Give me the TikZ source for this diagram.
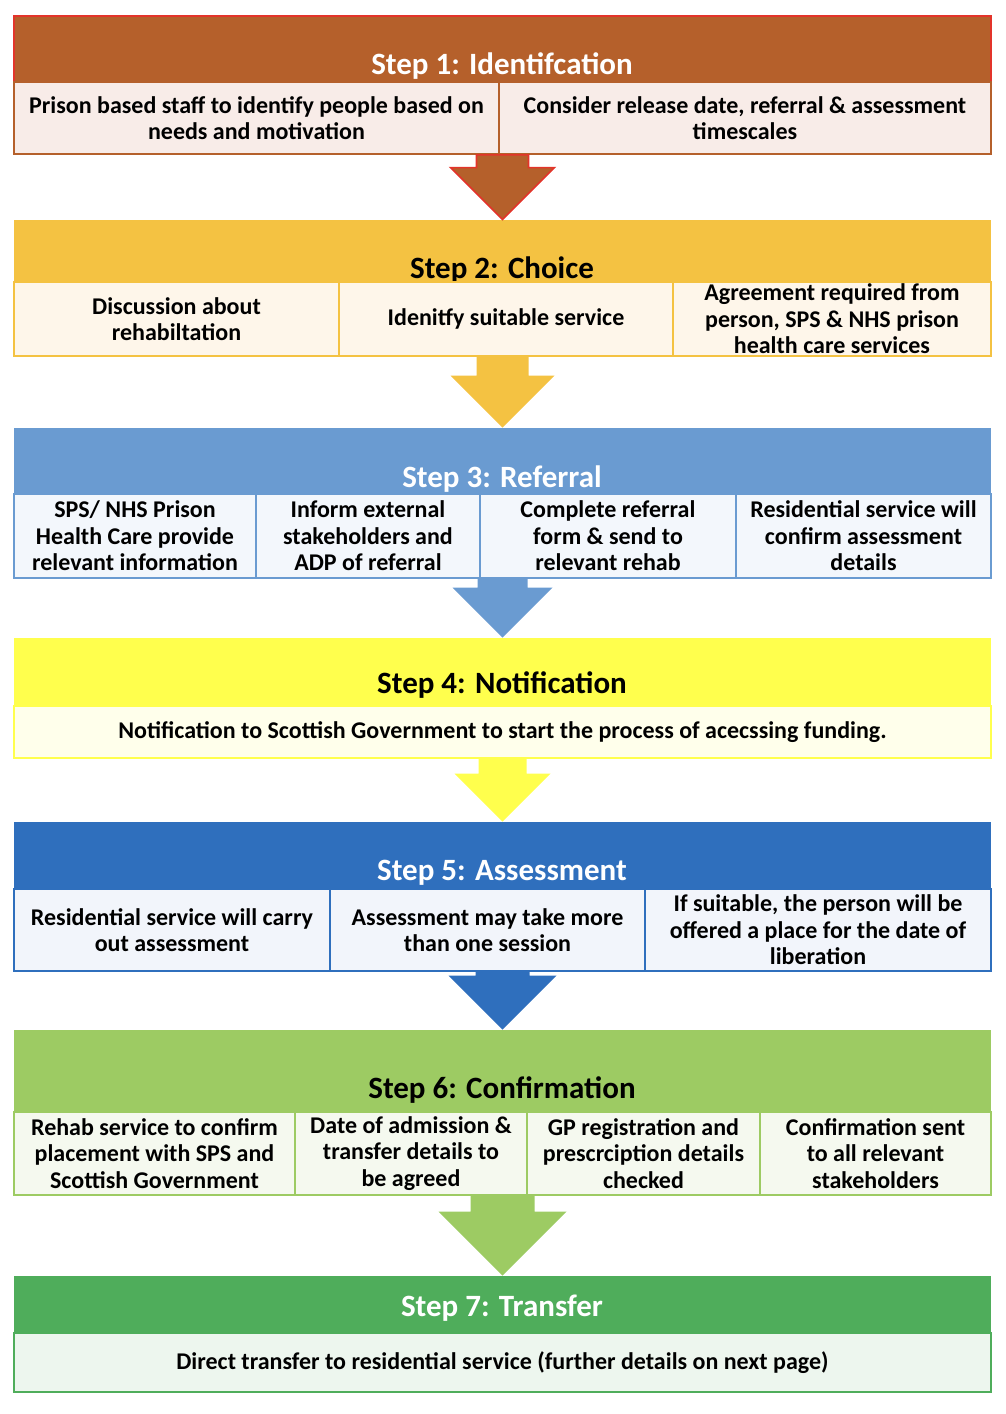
\documentclass[tikz,border=0pt]{standalone}
\usepackage{fontspec}
\setmainfont{Carlito}
\usepackage{xcolor}
\definecolor{color1}{RGB}{181, 96, 43}
\definecolor{color2}{RGB}{244, 194, 66}
\definecolor{color3}{RGB}{106, 155, 209}
\definecolor{color4}{RGB}{255, 255, 77}
\definecolor{color5}{RGB}{47, 111, 189}
\definecolor{color6}{RGB}{157, 203, 99}
\definecolor{color7}{RGB}{79, 173, 91}
\definecolor{light1}{RGB}{248, 236, 232}
\definecolor{light2}{RGB}{254, 246, 234}
\definecolor{light3}{RGB}{243, 247, 252}
\definecolor{light4}{RGB}{255, 255, 235}
\definecolor{light5}{RGB}{242, 245, 251}
\definecolor{light6}{RGB}{245, 249, 239}
\definecolor{light7}{RGB}{237, 246, 238}
\definecolor{red1}{RGB}{227, 52, 42}
\usepackage{tikz}
\usetikzlibrary{calc}

% box given by its corners: style, name, left, top, right, bottom, text
\newcommand{\cell}[7]{\node[#1, minimum width={(#5-#3)*0.5pt}, minimum height={(#6-#4)*0.5pt}] (#2) at ({(#3+#5)/2},{(#4+#6)/2}) {#7};}
% block arrow: from, to, half shaft width, style
\newcommand{\steparrow}[4]{\path[#4] let \p1=#1, \p2=#2 in
  (\x1-#3*0.5pt,\y1) -- (\x1+#3*0.5pt,\y1) -- (\x1+#3*0.5pt,\y2+#3pt) -- (\x1+#3pt,\y2+#3pt)
  -- (\x1,\y2) -- (\x1-#3pt,\y2+#3pt) -- (\x1-#3*0.5pt,\y2+#3pt) -- cycle;}

\begin{document}
\begin{tikzpicture}[x=0.5pt, y=-0.5pt,
	band/.style={fill=#1, inner sep=0pt},
	cell/.style 2 args={draw=#1, fill=#2, line width=0.8pt, inner sep=1pt, align=center, font=\bfseries\fontsize{12}{13.3}\selectfont},
	title/.style={text=#1, inner sep=0pt, font=\bfseries\fontsize{15.5}{17}\selectfont}]
		\useasboundingbox (0,0) rectangle (1006,1414);
		% Step 1
		\cell{band=color1, draw=red1, line width=0.8pt}{s1}{14}{16}{991}{82}{}
		\node[title=white] (t1) at (502,66) {Step 1: Identifcation};
		\cell{cell={color1}{light1}}{s1a}{14}{82}{499}{154}{Prison based staff to identify people based on\\needs and motivation}
		\cell{cell={color1}{light1}}{s1b}{499}{82}{991}{154}{Consider release date, referral \& assessment\\timescales}
		% Step 2
		\cell{band=color2}{s2}{14}{220}{991}{282}{}
		\node[title=black] (t2) at (502,270) {Step 2: Choice};
		\cell{cell={color2}{light2}}{s2a}{14}{282}{339}{356}{Discussion about\\rehabiltation}
		\cell{cell={color2}{light2}}{s2b}{339}{282}{673}{356}{Idenitfy suitable service}
		\cell{cell={color2}{light2}}{s2c}{673}{282}{991}{356}{Agreement required from\\person, SPS \& NHS prison\\health care services}
		% Step 3
		\cell{band=color3}{s3}{14}{428}{991}{494}{}
		\node[title=white] (t3) at (502,479) {Step 3: Referral};
		\cell{cell={color3}{light3}}{s3a}{14}{494}{256}{578}{SPS/ NHS Prison\\Health Care provide\\relevant information}
		\cell{cell={color3}{light3}}{s3b}{256}{494}{480}{578}{Inform external\\stakeholders and\\ADP of referral}
		\cell{cell={color3}{light3}}{s3c}{480}{494}{736}{578}{Complete referral\\form \& send to\\relevant rehab}
		\cell{cell={color3}{light3}}{s3d}{736}{494}{991}{578}{Residential service will\\confirm assessment\\details}
		% Step 4
		\cell{band=color4}{s4}{14}{638}{991}{706}{}
		\node[title=black] (t4) at (502,685) {Step 4: Notification};
		\cell{cell={color4}{light4}}{s4a}{14}{706}{991}{758}{Notification to Scottish Government to start the process of acecssing funding.}
		% Step 5
		\cell{band=color5}{s5}{14}{822}{991}{889}{}
		\node[title=white] (t5) at (502,873) {Step 5: Assessment};
		\cell{cell={color5}{light5}}{s5a}{14}{889}{330}{971}{Residential service will carry\\out assessment}
		\cell{cell={color5}{light5}}{s5b}{330}{889}{645}{971}{Assessment may take more\\than one session}
		\cell{cell={color5}{light5}}{s5c}{645}{889}{991}{971}{If suitable, the person will be\\offered a place for the date of\\liberation}
		% Step 6
		\cell{band=color6}{s6}{14}{1030}{991}{1112}{}
		\node[title=black] (t6) at (502,1090) {Step 6: Confirmation};
		\cell{cell={color6}{light6}}{s6a}{14}{1112}{295}{1195}{Rehab service to confirm\\placement with SPS and\\Scottish Government}
		\cell{cell={color6}{light6}}{s6b}{295}{1112}{527}{1195}{Date of admission \&\\transfer details to\\be agreed}
		\cell{cell={color6}{light6}}{s6c}{527}{1112}{760}{1195}{GP registration and\\prescrciption details\\checked}
		\cell{cell={color6}{light6}}{s6d}{760}{1112}{991}{1195}{Confirmation sent\\to all relevant\\stakeholders}
		% Step 7
		\cell{band=color7}{s7}{14}{1276}{991}{1333}{}
		\node[title=white] (t7) at (502,1308) {Step 7: Transfer};
		\cell{cell={color7}{light7}}{s7a}{14}{1333}{991}{1392}{Direct transfer to residential service (further details on next page)}
		% arrows between the steps
		\steparrow{(s1.center |- s1a.south)}{(s2.north)}{26}{fill=color1, draw=red1, line width=0.8pt}
		\steparrow{(s2.center |- s2a.south)}{(s3.north)}{26}{fill=color2}
		\steparrow{(s3.center |- s3a.south)}{(s4.north)}{25}{fill=color3}
		\steparrow{(s4.center |- s4a.south)}{(s5.north)}{24}{fill=color4}
		\steparrow{(s5.center |- s5a.south)}{(s6.north)}{27}{fill=color5}
		\steparrow{(s6.center |- s6a.south)}{(s7.north)}{32}{fill=color6}
	\end{tikzpicture}
\end{document}
